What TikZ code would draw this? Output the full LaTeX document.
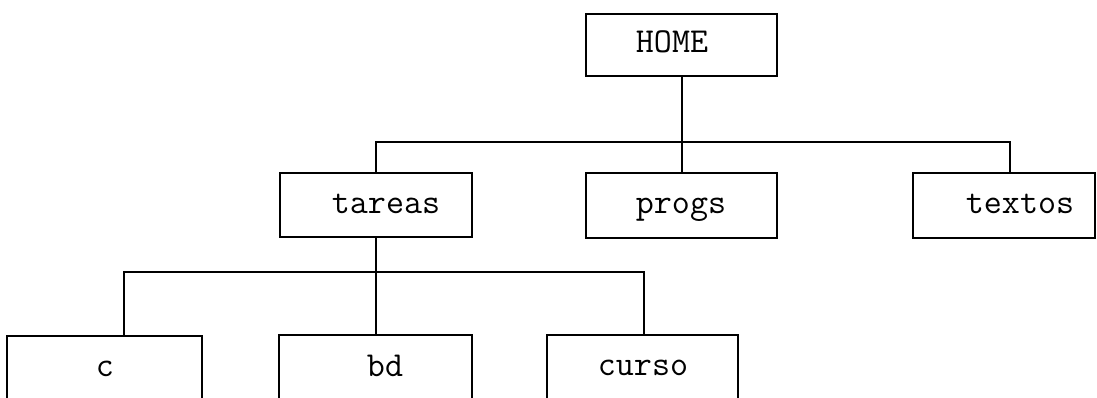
\documentclass[tikz,border=0pt]{standalone}
\tikzset{
  box/.style={draw, line width=1.4pt, rectangle, inner sep=0pt},
  lbl/.style={font=\ttfamily\fontsize{35}{35}\selectfont, inner sep=0pt, anchor=base},
  conn/.style={line width=1.4pt}
}
\begin{document}
\begin{tikzpicture}[x=1pt,y=-1pt]
\useasboundingbox (0,0) rectangle (1097,398);
% boxes
\node[box, minimum width=191pt, minimum height=62pt] (home) at (681.5,45) {};
\node[box, minimum width=192pt, minimum height=64pt] (tareas) at (376,205) {};
\node[box, minimum width=191pt, minimum height=65pt] (progs) at (681.5,205.5) {};
\node[box, minimum width=182pt, minimum height=65pt] (textos) at (1004,205.5) {};
\node[box, minimum width=195pt, minimum height=80pt] (c) at (104.5,376) {};
\node[box, minimum width=193pt, minimum height=80pt] (bd) at (375.5,375) {};
\node[box, minimum width=191pt, minimum height=80pt] (curso) at (642.5,375) {};
% labels
\node[lbl] (homeT) at (672,53) {HOME};
\node[lbl] (tareasT) at (386,213) {tareas};
\node[lbl] (progsT) at (681,213) {progs};
\node[lbl] (textosT) at (1020,213) {textos};
\node[lbl] (cT) at (105,376) {c};
\node[lbl] (bdT) at (385,376) {bd};
\node[lbl] (cursoT) at (643,375) {curso};
% junctions
\coordinate (j1) at (682,142);
\coordinate (j2) at (376,272);
% connectors
\draw[conn] (home.south -| j1) -- (progs.north -| j1);
\draw[conn] (tareas.north) |- (j1) -| (textos.north -| 1010,0);
\draw[conn] (tareas.south) -- (bd.north -| tareas.south);
\draw[conn] (c.north -| 124,0) |- (j2) -| (curso.north -| 644,0);
\end{tikzpicture}
\end{document}
